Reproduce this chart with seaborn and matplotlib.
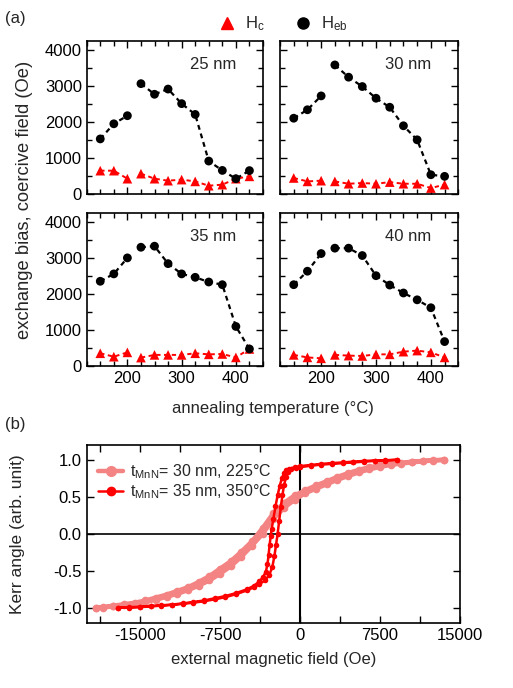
import numpy as np
import pandas as pd
import matplotlib
matplotlib.use("Agg")
import matplotlib.pyplot as plt
from matplotlib.lines import Line2D
from matplotlib.ticker import MultipleLocator
import seaborn as sns

# ---------------- data: panel (a) ----------------
temps = [150, 175, 200, 225, 250, 275, 300, 325, 350, 375, 400, 425]
segment = [0, 0, 0, 1, 1, 1, 1, 1, 1, 1, 1, 1]
thickness_labels = ["25 nm", "30 nm", "35 nm", "40 nm"]

heb_25 = [1530, 1950, 2175, 3065, 2770, 2915, 2510, 2210, 915, 655, 425, 650]
hc_25 = [648, 648, 425, 565, 425, 370, 400, 350, 230, 260, 425, 490]
heb_30 = [2105, 2340, 2725, 3585, 3245, 2985, 2660, 2410, 1895, 1505, 535, 490]
hc_30 = [445, 350, 370, 350, 285, 305, 285, 330, 285, 285, 165, 260]
heb_35 = [2345, 2550, 2995, 3290, 3320, 2835, 2550, 2455, 2325, 2250, 1090, 465]
hc_35 = [345, 250, 370, 225, 300, 300, 300, 345, 315, 325, 230, 465]
heb_40 = [2250, 2625, 3115, 3265, 3265, 3060, 2500, 2240, 2020, 1830, 1610, 670]
hc_40 = [300, 230, 205, 300, 280, 270, 315, 315, 390, 420, 370, 230]

# ---------------- data: panel (b) ----------------
# t_MnN = 30 nm, 225 C : descending branch then ascending branch
field_light_desc = [13500, 12500, 11500, 10500, 9500, 8500, 7500, 6500, 5500, 4500,
                    3500, 2500, 1500, 500, -500, -1500, -2500, -3500, -4500, -5500,
                    -6500, -7500, -8500, -9500, -10500, -11500, -12500, -13500,
                    -14500, -15500, -16500, -17500, -18500, -19100]
kerr_light_desc = [1.00, 0.995, 0.985, 0.975, 0.96, 0.945, 0.925, 0.90, 0.865, 0.82,
                   0.77, 0.71, 0.655, 0.59, 0.52, 0.42, 0.28, 0.08, -0.10, -0.24,
                   -0.37, -0.47, -0.57, -0.65, -0.72, -0.77, -0.82, -0.86,
                   -0.90, -0.93, -0.95, -0.97, -0.99, -1.00]
field_light_asc = [-19100, -18500, -17500, -16500, -15500, -14500, -13500, -12500,
                   -11500, -10500, -9500, -8500, -7500, -6500, -5500, -4500, -3500,
                   -2500, -1500, -500, 500, 1500, 2500, 3500, 4500, 5500, 6500,
                   7500, 8500, 9500, 10500, 11500, 12500, 13500]
kerr_light_asc = [-1.00, -0.995, -0.98, -0.965, -0.945, -0.92, -0.89, -0.85,
                  -0.81, -0.76, -0.70, -0.63, -0.54, -0.44, -0.31, -0.16, 0.00,
                  0.20, 0.35, 0.46, 0.55, 0.61, 0.67, 0.73, 0.78, 0.83, 0.87,
                  0.905, 0.93, 0.95, 0.965, 0.98, 0.99, 1.00]

# t_MnN = 35 nm, 350 C
field_dark_desc = [9100, 8000, 7000, 6000, 5000, 4000, 3000, 2000, 1000, 0, -500,
                   -1000, -1300, -1500, -1700, -1900, -2100, -2300, -2500, -2650,
                   -2750, -2850, -2950, -3050, -3200, -3450, -3800, -4300, -5000,
                   -6000, -7000, -8000, -9000, -10000, -11000, -12000, -13000,
                   -14000, -15000, -16000, -17100]
kerr_dark_desc = [1.00, 0.995, 0.99, 0.985, 0.975, 0.965, 0.955, 0.945, 0.93, 0.915,
                  0.90, 0.88, 0.86, 0.82, 0.75, 0.65, 0.52, 0.37, 0.20, 0.07,
                  -0.03, -0.15, -0.29, -0.41, -0.51, -0.58, -0.64, -0.70, -0.75,
                  -0.80, -0.84, -0.87, -0.90, -0.92, -0.94, -0.955, -0.965,
                  -0.975, -0.985, -0.99, -1.00]
field_dark_asc = [-17100, -16000, -15000, -14000, -13000, -12000, -11000, -10000,
                  -9000, -8000, -7000, -6000, -5000, -4300, -3800, -3300, -2900,
                  -2600, -2400, -2250, -2100, -1950, -1800, -1650, -1500, -1300,
                  -1100, -800, -400, 0, 1000, 2000, 3000, 4000, 5000, 6000, 7000,
                  8000, 9100]
kerr_dark_asc = [-1.00, -0.995, -0.99, -0.98, -0.97, -0.96, -0.945, -0.93,
                 -0.91, -0.885, -0.855, -0.815, -0.765, -0.72, -0.68, -0.63, -0.56,
                 -0.45, -0.30, -0.15, 0.00, 0.18, 0.36, 0.52, 0.66, 0.77,
                 0.84, 0.87, 0.89, 0.90, 0.92, 0.935, 0.945, 0.955, 0.965, 0.975,
                 0.985, 0.99, 1.00]

legend_b = ["t$_{\\mathrm{MnN}}$= 30 nm, 225°C", "t$_{\\mathrm{MnN}}$= 35 nm, 350°C"]

# ---------------- style ----------------
sns.set_theme(style="ticks")
plt.rcParams["font.family"] = ["Liberation Sans", "DejaVu Sans"]
plt.rcParams["mathtext.fontset"] = "custom"
plt.rcParams["mathtext.rm"] = "Liberation Sans"
plt.rcParams["mathtext.it"] = "Liberation Sans:italic"
plt.rcParams["mathtext.bf"] = "Liberation Sans:bold"
plt.rcParams["axes.unicode_minus"] = False
plt.rcParams["font.size"] = 12
plt.rcParams["axes.linewidth"] = 1.2
plt.rcParams["axes.edgecolor"] = "black"

RED = "#ff0000"
LIGHT = "#f48484"
FS = 12

fig = plt.figure(figsize=(5.13, 6.88), dpi=100)

W = 513.0
H = 688.0
def ax_rect(x0, y0, x1, y1):
    return [x0 / W, 1 - y1 / H, (x1 - x0) / W, (y1 - y0) / H]

rects = [ax_rect(86.7, 41, 263, 194), ax_rect(280, 41, 458.3, 194),
         ax_rect(86.7, 212.7, 263, 365.7), ax_rect(280, 212.7, 458.3, 365.7)]
hebs = [heb_25, heb_30, heb_35, heb_40]
hcs = [hc_25, hc_30, hc_35, hc_40]

for i, (rect, heb, hc, lab) in enumerate(zip(rects, hebs, hcs, thickness_labels)):
    ax = fig.add_axes(rect)
    df = pd.DataFrame({"T": temps, "Heb": heb, "Hc": hc, "seg": segment})
    sns.lineplot(data=df, x="T", y="Hc", units="seg", estimator=None, sort=False,
                 color=RED, lw=1.4, linestyle=(0, (2.2, 1.8)), ax=ax, zorder=2)
    sns.lineplot(data=df, x="T", y="Heb", units="seg", estimator=None, sort=False,
                 color="black", lw=1.6, linestyle=(0, (2.2, 1.8)), ax=ax, zorder=3)
    sns.scatterplot(data=df, x="T", y="Hc", marker="^", color=RED, s=48,
                    edgecolor="none", ax=ax, zorder=4)
    sns.scatterplot(data=df, x="T", y="Heb", marker="o", color="black", s=40,
                    edgecolor="none", ax=ax, zorder=5)
    ax.set_xlim(125, 450)
    ax.set_ylim(0, 4250)
    ax.xaxis.set_major_locator(MultipleLocator(100))
    ax.xaxis.set_minor_locator(MultipleLocator(25))
    ax.yaxis.set_major_locator(MultipleLocator(1000))
    ax.yaxis.set_minor_locator(MultipleLocator(500))
    ax.tick_params(which="both", direction="in", top=True, right=True,
                   labelsize=FS, colors="black", width=1.0)
    ax.tick_params(which="major", length=5)
    ax.tick_params(which="minor", length=3.5)
    ax.set_xlabel("")
    ax.set_ylabel("")
    if i < 2:
        ax.tick_params(labelbottom=False)
    if i % 2 == 1:
        ax.tick_params(labelleft=False)
    ax.text(0.85, 0.845, lab, transform=ax.transAxes, ha="right", va="center",
            fontsize=FS)

fig.text(25 / W, 1 - 200 / H, "exchange bias, coercive field (Oe)", rotation=90,
         ha="center", va="center", fontsize=13.2)
fig.text(272.5 / W, 1 - 408 / H, "annealing temperature (°C)", ha="center",
         va="center", fontsize=FS)

handles_a = [Line2D([], [], marker="^", color=RED, linestyle="none", markersize=8),
             Line2D([], [], marker="o", color="black", linestyle="none", markersize=8)]
fig.legend(handles_a, ["H$_\\mathrm{c}$", "H$_\\mathrm{eb}$"], ncol=2, frameon=False,
           loc="center", bbox_to_anchor=(283 / W, 1 - 24 / H), fontsize=FS,
           handlelength=1.0, handletextpad=0.6, columnspacing=1.8)

fig.text(5 / W, 1 - 18 / H, "(a)", ha="left", va="center", fontsize=FS)
fig.text(5 / W, 1 - 424 / H, "(b)", ha="left", va="center", fontsize=FS)

# ---------------- panel (b) ----------------
axb = fig.add_axes(ax_rect(86.7, 445, 460, 622.7))
axb.axhline(0, color="black", lw=1.2, zorder=1)
axb.axvline(0, color="black", lw=1.5, zorder=1)
df_light = pd.DataFrame({"H": field_light_desc + field_light_asc,
                         "K": kerr_light_desc + kerr_light_asc})
df_dark = pd.DataFrame({"H": field_dark_desc + field_dark_asc,
                        "K": kerr_dark_desc + kerr_dark_asc})
sns.lineplot(data=df_light, x="H", y="K", sort=False, estimator=None, color=LIGHT,
             lw=3.2, marker="o", markersize=5.5, markeredgewidth=0, ax=axb, zorder=2)
sns.lineplot(data=df_dark, x="H", y="K", sort=False, estimator=None, color=RED,
             lw=1.8, marker="o", markersize=4, markeredgewidth=0, ax=axb, zorder=3)
axb.set_xlim(-20000, 15000)
axb.set_ylim(-1.2, 1.2)
axb.xaxis.set_minor_locator(MultipleLocator(3750))
axb.set_yticks([-1.0, -0.5, 0.0, 0.5, 1.0])
axb.set_yticklabels(["-1.0", "-0.5", "0.0", "0.5", "1.0"])
axb.set_xticks([-15000, -7500, 0, 7500, 15000])
axb.set_xticklabels(["-15000", "-7500", "0", "7500", "15000"])
axb.tick_params(which="both", direction="in", top=True, right=True,
                labelsize=FS, colors="black", width=1.0)
axb.tick_params(which="major", length=5)
axb.tick_params(which="minor", length=5)
axb.set_xlabel("external magnetic field (Oe)", fontsize=FS)
axb.set_ylabel("Kerr angle (arb. unit)", fontsize=12.5)
axb.yaxis.set_label_coords((25 - 86.7) / (460 - 86.7), 0.5)
axb.xaxis.set_label_coords(0.5, -(652 - 622.7) / (622.7 - 445))

handles_b = [Line2D([], [], color=LIGHT, lw=3.2, marker="o", markersize=7),
             Line2D([], [], color=RED, lw=1.8, marker="o", markersize=6)]
axb.legend(handles_b, legend_b, loc="upper left", frameon=False, fontsize=11.5,
           bbox_to_anchor=(0.0, 0.965), handlelength=1.6, handletextpad=0.4,
           labelspacing=0.1, borderaxespad=0.3)

fig.savefig("out.png", dpi=100)
